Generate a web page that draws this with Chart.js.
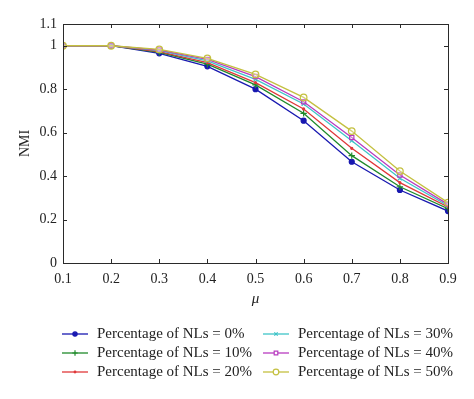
<!DOCTYPE html>
<html>
<head>
<meta charset="utf-8">
<script src="https://cdn.jsdelivr.net/npm/chart.js@4/dist/chart.umd.min.js"></script>
<style>
html,body{margin:0;padding:0;background:#fff;}
#wrap{width:474px;height:399px;position:relative;}
</style>
</head>
<body>
<div id="wrap"><canvas id="c" width="474" height="399"></canvas></div>
<script>
const mu = [0.1, 0.2, 0.3, 0.4, 0.5, 0.6, 0.7, 0.8, 0.9];
const nl0  = [1.0, 1.0, 0.965, 0.905, 0.800, 0.655, 0.466, 0.336, 0.239];
const nl10 = [1.0, 1.0, 0.970, 0.915, 0.820, 0.689, 0.494, 0.351, 0.250];
const nl20 = [1.0, 1.0, 0.973, 0.922, 0.830, 0.709, 0.528, 0.370, 0.258];
const nl30 = [1.0, 1.0, 0.977, 0.930, 0.845, 0.732, 0.563, 0.390, 0.264];
const nl40 = [1.0, 1.0, 0.980, 0.937, 0.858, 0.742, 0.578, 0.405, 0.270];
const nl50 = [1.0, 1.0, 0.983, 0.942, 0.868, 0.762, 0.607, 0.423, 0.278];
const yTicks = [0, 0.2, 0.4, 0.6, 0.8, 1, 1.1];
const xTicks = [0.1, 0.2, 0.3, 0.4, 0.5, 0.6, 0.7, 0.8, 0.9];
const labels = ["Percentage of NLs = 0%", "Percentage of NLs = 10%", "Percentage of NLs = 20%",
                "Percentage of NLs = 30%", "Percentage of NLs = 40%", "Percentage of NLs = 50%"];
const series = [nl0, nl10, nl20, nl30, nl40, nl50];
const colors = ["#1818b0", "#1f8a2a", "#e0383a", "#3ec4c8", "#b83cc0", "#c4c040"];
const styles = [
  {pointStyle: "circle", radius: 2.5, fill: true},
  {pointStyle: "cross", radius: 3.2, fill: false},
  {pointStyle: "circle", radius: 1, fill: true},
  {pointStyle: "crossRot", radius: 2.8, fill: false},
  {pointStyle: "rect", radius: 3, fill: false},
  {pointStyle: "circle", radius: 3.3, fill: false}
];
const FONT = "'Liberation Serif', 'DejaVu Serif', serif";

const datasets = series.map((s, i) => ({
  label: labels[i],
  data: mu.map((x, j) => ({x: x, y: s[j]})),
  borderColor: colors[i],
  backgroundColor: styles[i].fill ? colors[i] : "rgba(255,255,255,0.3)",
  pointBackgroundColor: styles[i].fill ? colors[i] : "rgba(255,255,255,0.3)",
  pointBorderColor: colors[i],
  pointStyle: styles[i].pointStyle,
  pointRadius: styles[i].radius,
  pointBorderWidth: 1.2,
  borderWidth: 1.3,
  tension: 0,
  order: 5 - i
}));

const decor = {
  id: "decor",
  afterDraw(chart) {
    const ctx = chart.ctx;
    const a = chart.chartArea;
    const xs = chart.scales.x, ys = chart.scales.y;
    ctx.save();
    ctx.strokeStyle = "#2a2a2a";
    ctx.lineWidth = 1;
    ctx.strokeRect(Math.round(a.left) + 0.5, Math.round(a.top) + 0.5,
                   Math.round(a.right - a.left), Math.round(a.bottom - a.top));
    const tl = 4;
    ctx.beginPath();
    xTicks.forEach(v => {
      const px = Math.round(xs.getPixelForValue(v)) + 0.5;
      ctx.moveTo(px, a.bottom); ctx.lineTo(px, a.bottom - tl);
      ctx.moveTo(px, a.top); ctx.lineTo(px, a.top + tl);
    });
    yTicks.forEach(v => {
      const py = Math.round(ys.getPixelForValue(v)) + 0.5;
      ctx.moveTo(a.left, py); ctx.lineTo(a.left + tl, py);
      ctx.moveTo(a.right, py); ctx.lineTo(a.right - tl, py);
    });
    ctx.stroke();
    ctx.restore();

    // axis titles
    ctx.save();
    ctx.fillStyle = "#222";
    ctx.font = "14px " + FONT;
    ctx.textAlign = "center";
    ctx.textBaseline = "middle";
    ctx.translate(25, (a.top + a.bottom) / 2);
    ctx.rotate(-Math.PI / 2);
    ctx.fillText("NMI", 0, 0);
    ctx.restore();
    ctx.save();
    ctx.fillStyle = "#222";
    ctx.font = "italic 15px " + FONT;
    ctx.textAlign = "center";
    ctx.textBaseline = "middle";
    ctx.fillText("\u03bc", (a.left + a.right) / 2, 299);
    ctx.restore();

    // legend
    chart.data.datasets.forEach((ds, i) => {
      const col = Math.floor(i / 3), row = i % 3;
      const x0 = col === 0 ? 62 : 263;
      const y = 334 + row * 19;
      ctx.save();
      ctx.strokeStyle = colors[i];
      ctx.lineWidth = 1.3;
      ctx.beginPath();
      ctx.moveTo(x0, y); ctx.lineTo(x0 + 26, y);
      ctx.stroke();
      ctx.fillStyle = styles[i].fill ? colors[i] : "#ffffff";
      ctx.strokeStyle = colors[i];
      ctx.lineWidth = 1.2;
      Chart.helpers.drawPoint(ctx, {
        pointStyle: styles[i].pointStyle,
        radius: styles[i].radius * 0.85,
        borderWidth: 1.2
      }, x0 + 13, y);
      ctx.fillStyle = "#222";
      ctx.font = "15px " + FONT;
      ctx.textAlign = "left";
      ctx.textBaseline = "middle";
      ctx.fillText(ds.label, x0 + 35, y);
      ctx.restore();
    });
  }
};

new Chart(document.getElementById("c"), {
  type: "line",
  data: {datasets: datasets},
  options: {
    responsive: false,
    animation: false,
    events: [],
    layout: {padding: {top: 24, right: 26, left: 0, bottom: 0}},
    plugins: {legend: {display: false}, tooltip: {enabled: false}},
    scales: {
      x: {
        type: "linear",
        min: 0.1, max: 0.9,
        afterFit(s) { s.height = 136; },
        afterBuildTicks(s) { s.ticks = xTicks.map(v => ({value: v})); },
        grid: {display: false, drawTicks: false},
        border: {display: false},
        ticks: {
          padding: 8, color: "#222", maxRotation: 0, autoSkip: false,
          font: {family: FONT, size: 14},
          callback: v => String(Math.round(v * 10) / 10)
        }
      },
      y: {
        type: "linear",
        min: 0, max: 1.1,
        afterFit(s) { s.width = 63; },
        afterBuildTicks(s) { s.ticks = yTicks.map(v => ({value: v})); },
        grid: {display: false, drawTicks: false},
        border: {display: false},
        ticks: {
          padding: 6, color: "#222", autoSkip: false,
          font: {family: FONT, size: 14},
          callback: v => String(Math.round(v * 10) / 10)
        }
      }
    }
  },
  plugins: [decor]
});
</script>
</body>
</html>
